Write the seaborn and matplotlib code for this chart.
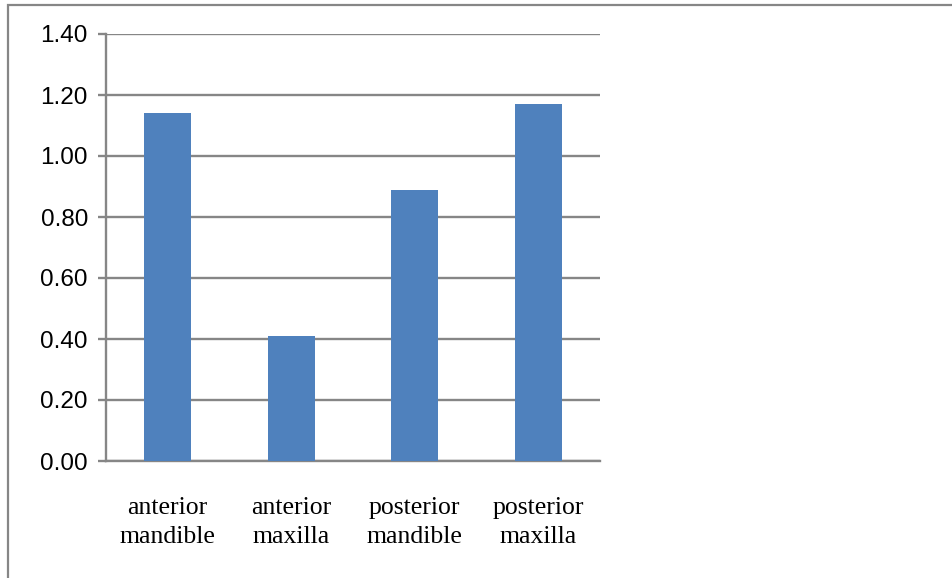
import matplotlib
matplotlib.use("Agg")
import matplotlib.pyplot as plt
import seaborn as sns
import pandas as pd
from matplotlib.patches import Rectangle

# --- data ---
categories = ["anterior\nmandible", "anterior\nmaxilla", "posterior\nmandible", "posterior\nmaxilla"]
values = [1.14, 0.41, 0.89, 1.17]
y_ticks = [0.0, 0.2, 0.4, 0.6, 0.8, 1.0, 1.2, 1.4]

df = pd.DataFrame({"site": categories, "value": values})

sns.set_style("white")
plt.rcParams["font.family"] = ["Liberation Sans", "DejaVu Sans"]

grid_col = "#868686"
bar_col = "#4F81BD"

fig = plt.figure(figsize=(9.52, 5.78), dpi=100)
ax = fig.add_axes([106 / 952, 1 - 461 / 578, 494 / 952, 427 / 578])

sns.barplot(data=df, x="site", y="value", color=bar_col, saturation=1,
            width=0.38, linewidth=0, ax=ax, zorder=3)

ax.set_xlim(-0.5, 3.5)
ax.set_ylim(0, 1.4)
ax.set_yticks(y_ticks)
ax.set_yticklabels([f"{t:.2f}" for t in y_ticks], fontsize=17.5, color="black")
ax.yaxis.grid(True, color=grid_col, lw=1.7, zorder=0)
ax.set_axisbelow(True)

# category labels in serif, boundaries get the tick marks
ax.set_xticks(range(len(categories)))
ax.set_xticklabels(categories, family="Liberation Serif", fontsize=18.5,
                   linespacing=1.4, color="black")
ax.tick_params(axis="x", which="major", length=0, pad=26)
ax.set_xticks([i - 0.5 for i in range(len(categories) + 1)], minor=True)
ax.tick_params(axis="x", which="minor", length=5, width=1.7, color=grid_col,
               direction="out")
ax.tick_params(axis="y", length=6, width=1.7, color=grid_col, pad=7,
               direction="out", left=True)

for s in ["top", "right"]:
    ax.spines[s].set_visible(False)
for s in ["left", "bottom"]:
    ax.spines[s].set_color(grid_col)
    ax.spines[s].set_linewidth(1.7)

ax.set_xlabel("")
ax.set_ylabel("")

# outer chart border (only left and top edges visible in the crop)
fig.patches.append(Rectangle((8 / 952, -0.05), 1.1, 1 - 5 / 578 + 0.05,
                             transform=fig.transFigure, fill=False,
                             edgecolor=grid_col, lw=1.6))

plt.savefig("out.png", dpi=100)
